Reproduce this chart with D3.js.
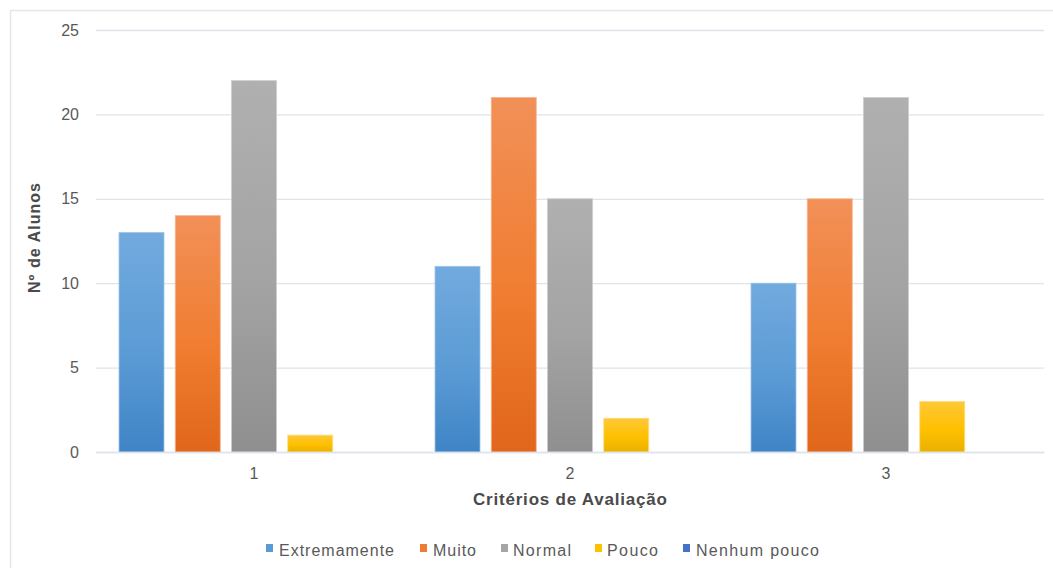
<!DOCTYPE html>
<html>
<head>
<meta charset="utf-8">
<script src="https://cdn.jsdelivr.net/npm/d3@7"></script>
<style>
  html, body { margin: 0; padding: 0; background: #ffffff; }
  svg { display: block; font-family: "Liberation Sans", Arial, sans-serif; }
</style>
</head>
<body>
<svg id="chart" width="1053" height="568"></svg>
<script>
// Avaliação dos alunos por critério
const categories = ["1", "2", "3"];
const seriesNames = ["Extremamente", "Muito", "Normal", "Pouco", "Nenhum pouco"];
const extremamente = [13, 11, 10];
const muito = [14, 21, 15];
const normal = [22, 15, 21];
const pouco = [1, 2, 3];
const nenhumPouco = [0, 0, 0];
const yTicks = [0, 5, 10, 15, 20, 25];

const seriesValues = [extremamente, muito, normal, pouco, nenhumPouco];

// gradient stops per series: top, middle, bottom
const palette = [
  { top: "#72aade", mid: "#5b9bd5", bottom: "#3f84c6", edge: "#9cc3e8", key: "#5b9bd5" },
  { top: "#f29058", mid: "#f07d31", bottom: "#e0661b", edge: "#f6b48c", key: "#ed7d31" },
  { top: "#b0b0b0", mid: "#a3a3a3", bottom: "#8f8f8f", edge: "#cccccc", key: "#a5a5a5" },
  { top: "#ffc838", mid: "#ffc000", bottom: "#e8b100", edge: "#ffdc80", key: "#ffc000" },
  { top: "#5a84d0", mid: "#4472c4", bottom: "#33609f", edge: "#8eaadc", key: "#4472c4" }
];

const svg = d3.select("#chart");
const W = 1053, H = 568;

// outer chart frame
svg.append("rect")
  .attr("x", 10.5).attr("y", 10.5)
  .attr("width", W + 20).attr("height", H + 20)
  .attr("fill", "#ffffff")
  .attr("stroke", "#e3e6ea").attr("stroke-width", 1.5);

const plot = { left: 96, right: 1044, top: 30, bottom: 452 };

const x0 = d3.scaleBand()
  .domain(categories)
  .range([plot.left, plot.right])
  .paddingInner(0).paddingOuter(0);

const x1 = d3.scaleBand()
  .domain(seriesNames)
  .range([0, x0.bandwidth()])
  .paddingInner(0.2)
  .paddingOuter(0.409);

const y = d3.scaleLinear()
  .domain([0, 25])
  .range([plot.bottom, plot.top]);

// gradients
const defs = svg.append("defs");
palette.forEach((p, i) => {
  const g = defs.append("linearGradient")
    .attr("id", "grad" + i)
    .attr("x1", 0).attr("y1", 0).attr("x2", 0).attr("y2", 1);
  g.append("stop").attr("offset", "0%").attr("stop-color", p.top);
  g.append("stop").attr("offset", "55%").attr("stop-color", p.mid);
  g.append("stop").attr("offset", "100%").attr("stop-color", p.bottom);
});

// horizontal gridlines
const yAxis = d3.axisLeft(y)
  .tickValues(yTicks)
  .tickSize(-(plot.right - plot.left))
  .tickPadding(17)
  .tickFormat(d3.format("d"));

const gy = svg.append("g")
  .attr("transform", `translate(${plot.left},0)`)
  .call(yAxis);
gy.select(".domain").remove();
gy.selectAll(".tick line")
  .attr("stroke", "#dfe4ec").attr("stroke-width", 1.3);
gy.selectAll(".tick text")
  .attr("fill", "#595959")
  .style("font-size", "16px");

// bars
const groups = svg.append("g")
  .selectAll("g")
  .data(categories)
  .join("g")
  .attr("transform", d => `translate(${x0(d)},0)`);

groups.selectAll("rect")
  .data((c, ci) => seriesNames.map((s, si) => ({ s, si, v: seriesValues[si][ci] })))
  .join("rect")
  .attr("x", d => x1(d.s))
  .attr("y", d => y(d.v))
  .attr("width", x1.bandwidth())
  .attr("height", d => y(0) - y(d.v))
  .attr("fill", d => `url(#grad${d.si})`)
  .attr("stroke", d => d.v > 0 ? palette[d.si].edge : "none")
  .attr("stroke-width", 0.8);

// category axis
const xAxis = d3.axisBottom(x0).tickSize(0).tickPadding(16);
const gx = svg.append("g")
  .attr("transform", `translate(0,${plot.bottom})`)
  .call(xAxis);
gx.select(".domain")
  .attr("stroke", "#dfe4ec").attr("stroke-width", 1.5);
gx.selectAll(".tick text")
  .attr("fill", "#595959")
  .style("font-size", "16px");

// axis titles
svg.append("text")
  .attr("x", 570).attr("y", 505)
  .attr("text-anchor", "middle")
  .attr("fill", "#4a4a4a")
  .style("font-size", "17px").style("font-weight", "bold")
  .attr("textLength", 194).attr("lengthAdjust", "spacing")
  .text("Critérios de Avaliação");

svg.append("text")
  .attr("transform", "translate(40,238) rotate(-90)")
  .attr("text-anchor", "middle")
  .attr("fill", "#4a4a4a")
  .style("font-size", "16px").style("font-weight", "bold")
  .attr("textLength", 110).attr("lengthAdjust", "spacing")
  .text("Nº de Alunos");

// legend
const legendItems = [
  { name: "Extremamente", sq: 266, tx: 279, w: 115 },
  { name: "Muito", sq: 420, tx: 433, w: 43 },
  { name: "Normal", sq: 501, tx: 513, w: 58 },
  { name: "Pouco", sq: 595, tx: 607, w: 51 },
  { name: "Nenhum pouco", sq: 683, tx: 696, w: 123 }
];
const lg = svg.append("g");
legendItems.forEach((it, i) => {
  lg.append("rect")
    .attr("x", it.sq).attr("y", 544)
    .attr("width", 7).attr("height", 8)
    .attr("fill", palette[i].key);
  lg.append("text")
    .attr("x", it.tx).attr("y", 555.5)
    .attr("fill", "#595959")
    .style("font-size", "16px")
    .attr("textLength", it.w).attr("lengthAdjust", "spacing")
    .text(it.name);
});
</script>
</body>
</html>
